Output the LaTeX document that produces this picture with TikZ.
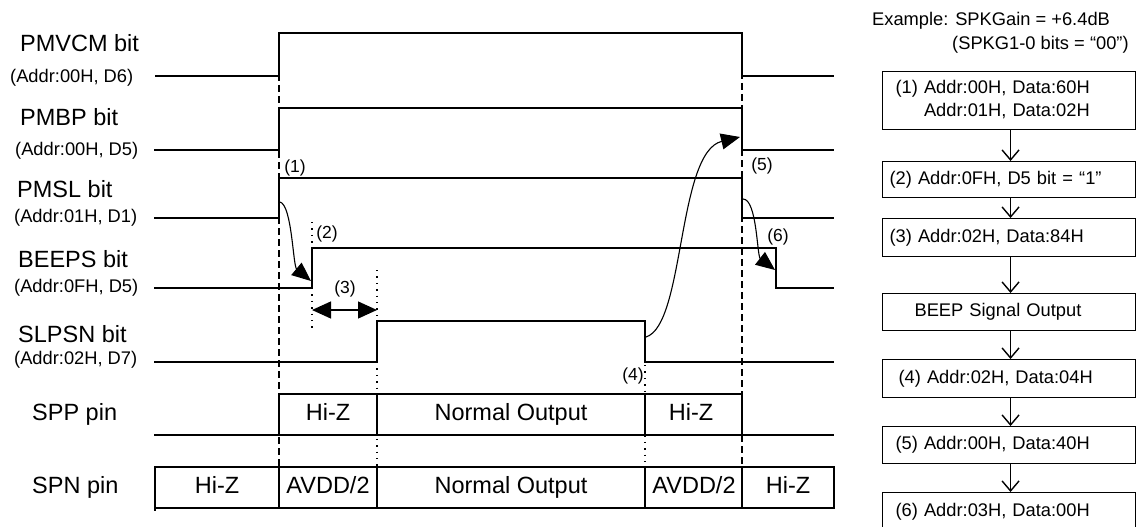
\documentclass[tikz,border=0pt]{standalone}
\usepackage{fontspec}
\setmainfont{Liberation Sans}
\usetikzlibrary{arrows.meta}
\begin{document}
\begin{tikzpicture}[x=1pt,y=-1pt,
  sig/.style={line width=1.2pt},
  dsh/.style={line width=1.8pt, dash pattern=on 7pt off 4pt},
  dts/.style={line width=1.4pt, dash pattern=on 1.4pt off 5pt},
  big/.style={font=\fontsize{23.5}{26}\selectfont, inner sep=0pt, anchor=base west},
  small/.style={font=\fontsize{18.3}{21}\selectfont, inner sep=0pt, anchor=base west},
  num/.style={font=\fontsize{17.5}{20}\selectfont, inner sep=0pt},
  cell/.style={font=\fontsize{23.5}{26}\selectfont, inner sep=0pt, anchor=base},
  fbox/.style={draw, line width=1.1pt, anchor=north west, minimum width=253pt, text width=227pt, inner xsep=13pt, inner ysep=0pt, font=\fontsize{18.3}{23}\selectfont, align=left},
  farr/.style={line width=1.3pt, -{Straight Barb[length=10pt,width=17pt,line width=1.4pt]}},
  tri/.style={line width=1.1pt, -{Triangle[length=19pt,width=16pt]}},
  dtri/.style={line width=1.3pt, {Triangle[length=19pt,width=17pt]}-{Triangle[length=19pt,width=17pt]}},
]
\useasboundingbox (0,0) rectangle (1136,527);
\clip (0,0) rectangle (1136,527);

% signal labels
\node[big] (lPMVCM) at (20,52) {PMVCM bit};
\node[small] (aPMVCM) at (10,83) {(Addr:00H, D6)};
\node[big] (lPMBP) at (20,125) {PMBP bit};
\node[small] (aPMBP) at (15,155) {(Addr:00H, D5)};
\node[big] (lPMSL) at (17,197) {PMSL bit};
\node[small] (aPMSL) at (14,222) {(Addr:01H, D1)};
\node[big] (lBEEPS) at (18,267) {BEEPS bit};
\node[small] (aBEEPS) at (14,292) {(Addr:0FH, D5)};
\node[big] (lSLPSN) at (18,342) {SLPSN bit};
\node[small] (aSLPSN) at (14,364) {(Addr:02H, D7)};
\node[big] (lSPP) at (32,420) {SPP pin};
\node[big] (lSPN) at (32,493) {SPN pin};

% waveforms
\draw[sig] (155,76) -- (279,76) -- (279,33) -- (742,33) -- (742,76) -- (834,76);
\draw[sig] (154,150) -- (279,150) -- (279,108) -- (742,108) -- (742,150) -- (834,150);
\draw[sig] (154,218) -- (279,218) -- (279,178) -- (742,178) -- (742,218) -- (834,218);
\draw[sig] (154,288) -- (312,288) -- (312,248) -- (776,248) -- (776,288) -- (834,288);
\draw[sig] (154,362) -- (377,362) -- (377,321) -- (645,321) -- (645,362) -- (834,362);

% SPP
\draw[sig] (154,435) -- (834,435);
\draw[sig] (279,435) -- (279,394) -- (742,394) -- (742,435);
\draw[sig] (377,394) -- (377,435);
\draw[sig] (645,394) -- (645,435);
% SPN
\draw[sig] (155,467) rectangle (834,508);
\draw[sig] (155,508) -- (155,511);
\foreach \xx in {279,377,645,742} \draw[sig] (\xx,467) -- (\xx,508);

% cell texts
\node[cell] (p1) at (328,420) {Hi-Z};
\node[cell] (p2) at (511,420) {Normal Output};
\node[cell] (p3) at (691,420) {Hi-Z};
\node[cell] (n1) at (217,493) {Hi-Z};
\node[cell] (n2) at (328,493) {AVDD/2};
\node[cell] (n3) at (511,493) {Normal Output};
\node[cell] (n4) at (694,493) {AVDD/2};
\node[cell] (n5) at (788,493) {Hi-Z};

% dashed and dotted markers
\draw[dsh] (279,74) -- (279,467);
\draw[dsh] (742,72) -- (742,467);
\draw[dts] (312,222) -- (312,248);
\draw[dts] (312,288) -- (312,332);
\draw[dts] (377,270) -- (377,321);
\draw[dts] (377,362) -- (377,467);
\draw[dts] (645,365) -- (645,467);

% step labels
\node[num] (s1) at (295,168) {(1)};
\node[num] (s2) at (327,234) {(2)};
\node[num] (s3) at (345,289) {(3)};
\node[num] (s4) at (633,376) {(4)};
\node[num] (s5) at (762,166) {(5)};
\node[num] (s6) at (778,237) {(6)};

% event arrows
\coordinate (c1a) at (280,202);
\coordinate (c1b) at (311,281);
\coordinate (c3a) at (312,310);
\coordinate (c3b) at (377,310);
\coordinate (c4a) at (646,337);
\coordinate (c4b) at (740,137);
\coordinate (c5a) at (743,199);
\coordinate (c5b) at (775,270);
\draw[tri] (c1a) .. controls (292,205) and (293,266) .. (c1b);
\draw[dtri] (c3a) -- (c3b);
\draw[tri] (c4a) .. controls (685,325) and (677,152) .. (c4b);
\draw[tri] (c5a) .. controls (757,199) and (757,256) .. (c5b);

% example header
\node[small] (ex1) at (872,26) {Example: SPKGain = +6.4dB};
\node[small] (ex2) at (952,50) {(SPKG1-0 bits = “00”)};

% flowchart
\node[fbox, minimum height=58pt] (f1) at (882,71) {(1) Addr:00H, Data:60H\\\phantom{(1) }Addr:01H, Data:02H};
\node[fbox, minimum height=36pt] (f2) at (882,161) {\hspace*{-6pt}(2) Addr:0FH, D5 bit = “1”};
\node[fbox, minimum height=38pt] (f3) at (882,218) {\hspace*{-6pt}(3) Addr:02H, Data:84H};
\node[fbox, minimum height=37pt] (f4) at (882,293) {\hspace*{19pt}BEEP Signal Output};
\node[fbox, minimum height=38pt] (f5) at (882,359) {\hspace*{3pt}(4) Addr:02H, Data:04H};
\node[fbox, minimum height=37pt] (f6) at (882,426) {(5) Addr:00H, Data:40H};
\node[fbox, minimum height=38pt] (f7) at (882,492) {(6) Addr:03H, Data:00H};
\draw[farr] ([xshift=1.5pt]f1.south) -- ([xshift=1.5pt]f2.north);
\draw[farr] ([xshift=1.5pt]f2.south) -- ([xshift=1.5pt]f3.north);
\draw[farr] ([xshift=1.5pt]f3.south) -- ([xshift=1.5pt]f4.north);
\draw[farr] ([xshift=1.5pt]f4.south) -- ([xshift=1.5pt]f5.north);
\draw[farr] ([xshift=1.5pt]f5.south) -- ([xshift=1.5pt]f6.north);
\draw[farr] ([xshift=1.5pt]f6.south) -- ([xshift=1.5pt]f7.north);
\end{tikzpicture}
\end{document}
